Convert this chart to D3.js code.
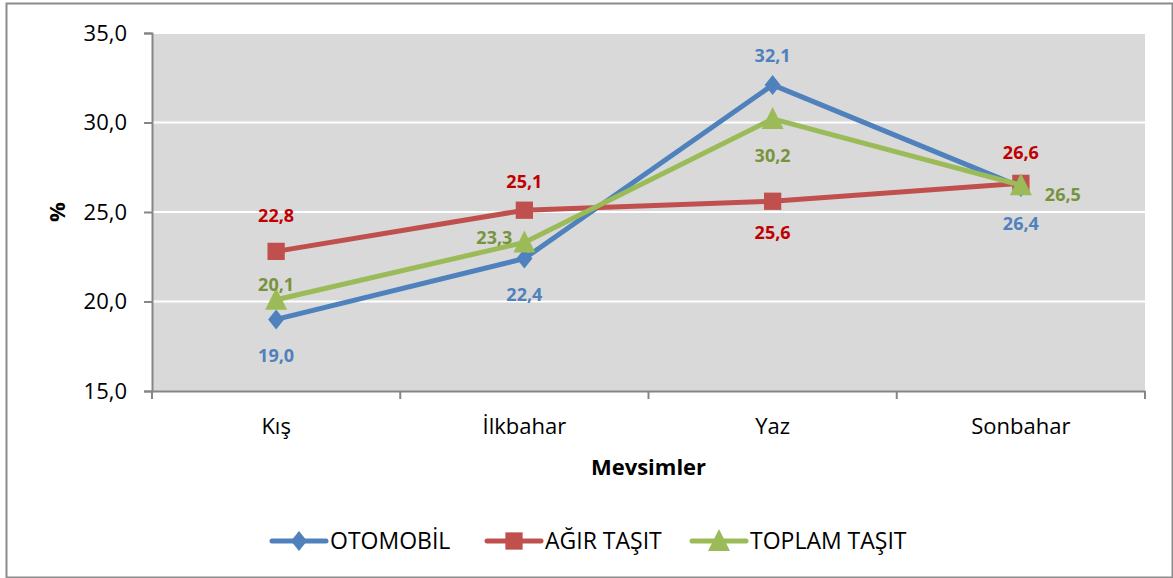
<!DOCTYPE html>
<html>
<head>
<meta charset="utf-8">
<script src="https://cdn.jsdelivr.net/npm/d3@7"></script>
<style>
  body { margin: 0; background: #fff; }
  svg { font-family: "Open Sans", "DejaVu Sans", sans-serif; }
</style>
</head>
<body>
<script>
// categories and series values
var seasons = ["Kış", "İlkbahar", "Yaz", "Sonbahar"];
var otomobil = [19.0, 22.4, 32.1, 26.4];
var agirTasit = [22.8, 25.1, 25.6, 26.6];
var toplamTasit = [20.1, 23.3, 30.2, 26.5];
var yTicks = [15, 20, 25, 30, 35];

// label placement per point: dx, dy from the marker
var series = [
  { name: "OTOMOBİL", values: otomobil, line: "#4F81BD", label: "#4F81BD", marker: "diamond",
    pos: [[0, 36], [0, 36], [0, -29], [0, 37]] },
  { name: "AĞIR TAŞIT", values: agirTasit, line: "#C0504D", label: "#C00000", marker: "square",
    pos: [[0, -36], [0, -29], [0, 31], [0, -31]] },
  { name: "TOPLAM TAŞIT", values: toplamTasit, line: "#9BBB59", label: "#77933C", marker: "triangle",
    pos: [[0, -15], [-30, -5], [0, 37], [42, 10]] }
];

var W = 1173, H = 578;
var svg = d3.select("body").append("svg").attr("width", W).attr("height", H);

// outer border
svg.append("rect")
  .attr("x", 6.5).attr("y", 3.5).attr("width", W - 7).attr("height", H - 4)
  .attr("fill", "#fff").attr("stroke", "#8c8c8c").attr("stroke-width", 2);

var plotLeft = 152, plotRight = 1145, plotTop = 33, plotBottom = 391;

var x = d3.scaleBand().domain(seasons).range([plotLeft, plotRight]);
var y = d3.scaleLinear().domain([15, 35]).range([plotBottom, plotTop]);

svg.append("rect")
  .attr("x", plotLeft).attr("y", plotTop)
  .attr("width", plotRight - plotLeft).attr("height", plotBottom - plotTop)
  .attr("fill", "#d9d9d9");

// gridlines
svg.selectAll(".grid")
  .data(yTicks.slice(1))
  .enter().append("line")
  .attr("x1", plotLeft).attr("x2", plotRight)
  .attr("y1", function(d) { return y(d); })
  .attr("y2", function(d) { return y(d); })
  .attr("stroke", "#fff").attr("stroke-width", 2);

// y axis
var yAxis = svg.append("g")
  .attr("transform", "translate(" + plotLeft + ",0)")
  .call(d3.axisLeft(y).tickValues(yTicks).tickSize(8).tickPadding(17)
    .tickFormat(function(d) { return d3.format(".1f")(d).replace(".", ","); }));
yAxis.select(".domain").attr("stroke", "#868686").attr("stroke-width", 2);
yAxis.selectAll(".tick line").attr("stroke", "#868686").attr("stroke-width", 2);
yAxis.selectAll("text").attr("font-size", 22).attr("fill", "#000")
  .attr("font-family", "Open Sans, sans-serif");

// x axis
var xAxis = svg.append("g")
  .attr("transform", "translate(0," + plotBottom + ")")
  .call(d3.axisBottom(x).tickSize(0).tickPadding(27));
xAxis.select(".domain").attr("stroke", "#868686").attr("stroke-width", 2);
xAxis.selectAll("text").attr("font-size", 22).attr("fill", "#000")
  .attr("font-family", "Open Sans, sans-serif");
// boundary ticks between categories
var bounds = seasons.map(function(d) { return x(d); }).concat([plotRight]);
svg.selectAll(".xtick")
  .data(bounds)
  .enter().append("line")
  .attr("x1", function(d) { return d; }).attr("x2", function(d) { return d; })
  .attr("y1", plotBottom).attr("y2", plotBottom + 8)
  .attr("stroke", "#868686").attr("stroke-width", 2);

// axis titles
svg.append("text")
  .attr("x", (plotLeft + plotRight) / 2).attr("y", 475)
  .attr("text-anchor", "middle").attr("font-size", 22).attr("font-weight", "bold")
  .text("Mevsimler");
svg.append("text")
  .attr("transform", "translate(65,212) rotate(-90)")
  .attr("text-anchor", "middle").attr("font-size", 22).attr("font-weight", "bold")
  .text("%");

function cx(d, i) { return x(seasons[i]) + x.bandwidth() / 2; }

var line = d3.line()
  .x(function(d, i) { return cx(d, i); })
  .y(function(d) { return y(d); });

function markerPath(type) {
  if (type === "diamond") return "M0,-10L8,0L0,10L-8,0Z";
  if (type === "square") return d3.symbol().type(d3.symbolSquare2).size(380)();
  return "M0,-12L11,10L-11,10Z";
}

series.forEach(function(s) {
  svg.append("path")
    .datum(s.values)
    .attr("d", line)
    .attr("fill", "none").attr("stroke", s.line).attr("stroke-width", 5)
    .attr("stroke-linejoin", "round");
  svg.selectAll(null)
    .data(s.values)
    .enter().append("path")
    .attr("d", markerPath(s.marker))
    .attr("transform", function(d, i) { return "translate(" + cx(d, i) + "," + y(d) + ")"; })
    .attr("fill", s.line);
});

series.forEach(function(s) {
  svg.selectAll(null)
    .data(s.values)
    .enter().append("text")
    .attr("x", function(d, i) { return cx(d, i) + s.pos[i][0]; })
    .attr("y", function(d, i) { return y(d) + s.pos[i][1]; })
    .attr("dy", "0.35em")
    .attr("text-anchor", "middle")
    .attr("font-size", 18).attr("font-weight", "bold")
    .attr("fill", s.label)
    .text(function(d) { return d3.format(".1f")(d).replace(".", ","); });
});

// legend
var legendX = [270, 485, 690];
var legend = svg.selectAll(".legend")
  .data(series)
  .enter().append("g")
  .attr("transform", function(d, i) { return "translate(" + legendX[i] + ",541)"; });
legend.append("line")
  .attr("x1", 2).attr("x2", 56).attr("y1", 0).attr("y2", 0)
  .attr("stroke", function(d) { return d.line; }).attr("stroke-width", 5)
  .attr("stroke-linecap", "round");
legend.append("path")
  .attr("d", function(d) { return markerPath(d.marker); })
  .attr("transform", "translate(29,0)")
  .attr("fill", function(d) { return d.line; });
legend.append("text")
  .attr("x", 60).attr("dy", "0.35em")
  .attr("font-size", 23).attr("fill", "#000")
  .text(function(d) { return d.name; });
</script>
</body>
</html>
